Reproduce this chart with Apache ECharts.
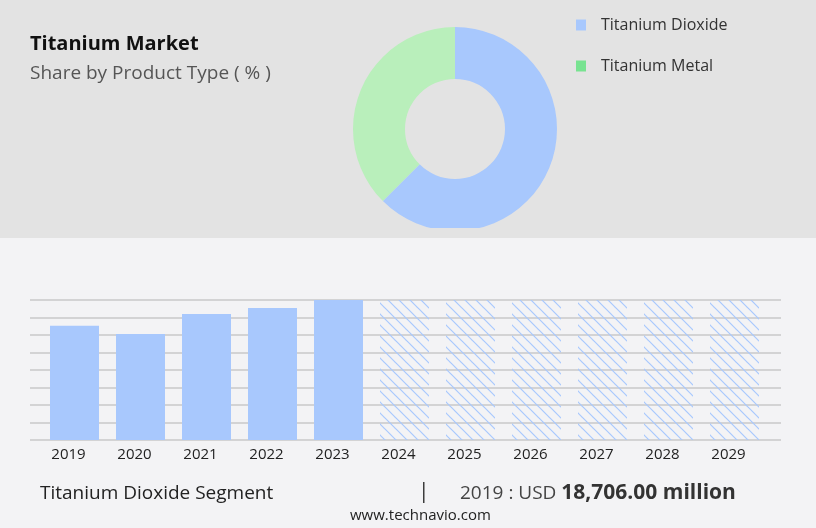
<!DOCTYPE html>
<html>
<head>
<meta charset="utf-8">
<script src="https://cdn.jsdelivr.net/npm/echarts@6/dist/echarts.min.js"></script>
<style>
html,body{margin:0;padding:0;background:#f3f3f5;}
#chart{width:816px;height:528px;}
</style>
</head>
<body>
<div id="chart"></div>
<script>
// ---- data ----
const shareNames = ['Titanium Dioxide', 'Titanium Metal'];
const shareValues = [62.5, 37.5];
const years = ['2019','2020','2021','2022','2023','2024','2025','2026','2027','2028','2029'];
const actualValues = [18706, 17350, 20620, 21600, 22910, null, null, null, null, null, null];
const forecastValues = [null, null, null, null, null, 22910, 22910, 22910, 22910, 22910, 22910];
const axisMax = 22910;
const segmentLabel = 'Titanium Dioxide Segment';
const segmentYear = '2019';
const segmentValue = '18,706.00 million';

// ---- hatch pattern ----
const tile = document.createElement('canvas');
tile.width = 11; tile.height = 11;
const tc = tile.getContext('2d');
tc.strokeStyle = '#a8c8fd';
tc.lineWidth = 1.2;
for (let k = -1; k <= 1; k++) {
  tc.beginPath();
  tc.moveTo(-1, -1 + 11 * k);
  tc.lineTo(12, 12 + 11 * k);
  tc.stroke();
}

const chart = echarts.init(document.getElementById('chart'));
const font = '"Open Sans", sans-serif';
chart.setOption({
  backgroundColor: '#f3f3f5',
  animation: false,
  textStyle: { fontFamily: font },
  graphic: [
    { type: 'rect', z: -10, shape: { x: 0, y: 0, width: 816, height: 238 }, style: { fill: '#e3e3e3' } },
    { type: 'rect', z: 100, shape: { x: 300, y: 228, width: 320, height: 10 }, style: { fill: '#e3e3e3' } },
    { type: 'text', left: 30, top: 34, style: { text: 'Titanium Market', font: 'bold 20px "Open Sans", sans-serif', fill: '#111' } },
    { type: 'text', left: 30, top: 64, style: { text: 'Share by Product Type ( % )', font: '19px "Open Sans", sans-serif', fill: '#555' } },
    { type: 'text', left: 40, top: 484, style: { text: segmentLabel, font: '19px "Open Sans", sans-serif', fill: '#222' } },
    { type: 'text', left: 418, top: 482, style: { text: '|', font: '21px "Open Sans", sans-serif', fill: '#333' } },
    { type: 'text', left: 460, top: 483, style: {
        text: '{a|' + segmentYear + ' : USD }{b|' + segmentValue + '}',
        rich: {
          a: { font: '19px "Open Sans", sans-serif', fill: '#444' },
          b: { font: 'bold 21px "Open Sans", sans-serif', fill: '#333' }
        } } },
    { type: 'text', left: 350, top: 508, style: { text: 'www.technavio.com', font: '15px "Open Sans", sans-serif', fill: '#222' } }
  ],
  legend: {
    orient: 'vertical',
    left: 571, top: 12,
    itemWidth: 10, itemHeight: 11, itemGap: 25,
    icon: 'rect',
    selectedMode: false,
    textStyle: { fontSize: 16, color: '#333', fontFamily: font, padding: [0, 0, 0, 10] },
    data: [
      { name: shareNames[0], itemStyle: { color: '#a8c8fd' } },
      { name: shareNames[1], itemStyle: { color: '#78e391' } }
    ]
  },
  grid: [
    { left: 30, right: 35, top: 300, bottom: 88 },
    { left: 41.5, right: 48.5, top: 300, bottom: 88 }
  ],
  xAxis: [
    { gridIndex: 0, type: 'value', show: false },
    { gridIndex: 1, type: 'category', data: years, boundaryGap: true,
      axisLine: { show: false }, axisTick: { show: false },
      axisLabel: { color: '#222', fontSize: 15, fontFamily: font, margin: 7, padding: [0, 12, 0, 0] } }
  ],
  yAxis: [
    { gridIndex: 0, type: 'value', min: 0, max: axisMax, interval: axisMax / 8,
      axisLabel: { show: false }, axisLine: { show: false }, axisTick: { show: false },
      splitLine: { lineStyle: { color: '#c8c8c8', width: 1.5 } } },
    { gridIndex: 1, type: 'value', min: 0, max: axisMax, show: false, splitLine: { show: false } }
  ],
  series: [
    {
      type: 'pie',
      center: [455, 129],
      radius: [50, 102],
      startAngle: 90,
      clockwise: true,
      label: { show: false },
      labelLine: { show: false },
      emphasis: { disabled: true },
      data: [
        { name: shareNames[0], value: shareValues[0], itemStyle: { color: '#a8c8fd' } },
        { name: shareNames[1], value: shareValues[1], itemStyle: { color: '#b9efbb' } }
      ]
    },
    {
      type: 'bar', xAxisIndex: 1, yAxisIndex: 1, barWidth: 49, barGap: '-100%',
      data: actualValues, itemStyle: { color: '#a8c8fd' }, emphasis: { disabled: true }, z: 3
    },
    {
      type: 'bar', xAxisIndex: 1, yAxisIndex: 1, barWidth: 49, barGap: '-100%',
      data: forecastValues, itemStyle: { color: { image: tile, repeat: 'repeat' } }, emphasis: { disabled: true }, z: 3
    }
  ]
});
</script>
</body>
</html>
